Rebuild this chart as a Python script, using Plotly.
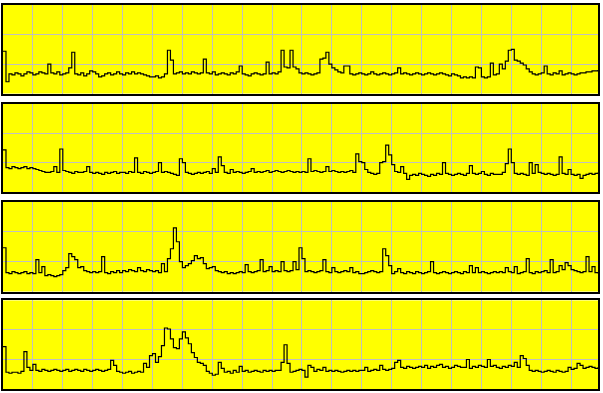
import plotly.graph_objects as go

# values (units: plot-height pixels, range 0..90)
series_a = [43,12,20,19,21,20,18,20,22,21,
            19,20,22,21,20,30,21,20,22,19,
            20,21,26,42,20,19,21,18,20,23,
            22,20,17,18,20,21,19,20,22,20,
            19,21,20,22,20,21,20,19,18,17,
            17,18,16,17,20,44,34,20,21,22,
            20,21,20,22,21,20,21,35,21,20,
            22,19,20,21,20,19,21,20,22,28,
            20,19,18,20,21,20,19,20,32,20,
            21,20,22,44,27,26,44,27,25,21,
            20,21,20,19,20,21,35,36,42,30,
            26,24,22,21,28,28,20,19,20,21,
            20,19,20,22,20,19,20,21,20,19,
            20,21,26,20,21,20,19,20,21,20,
            19,20,21,20,19,20,21,20,19,18,
            20,19,18,16,17,16,17,16,27,26,
            17,16,17,31,19,20,30,25,33,44,
            45,34,33,31,29,25,22,20,19,20,
            21,28,20,19,21,20,23,19,20,21,
            20,19,20,21,21,22,22,23,23,24]

series_b = [43,25,24,26,25,24,25,26,24,25,
            24,23,22,21,20,20,21,26,20,44,
            22,21,20,19,21,20,20,21,26,20,
            19,20,19,18,20,19,20,21,19,20,
            20,19,21,20,35,20,19,21,20,19,
            20,21,30,20,21,20,19,18,17,34,
            30,20,19,18,19,20,19,20,21,19,
            24,20,36,27,20,19,23,20,21,20,
            19,20,21,24,20,21,20,21,22,20,
            21,22,21,20,21,22,21,20,21,20,
            21,20,34,21,22,21,20,21,26,21,
            22,21,20,21,20,21,22,20,39,31,
            30,23,20,19,18,19,30,31,48,38,
            28,21,20,26,19,13,17,18,17,19,
            18,17,16,18,17,19,18,30,19,18,
            17,18,19,18,17,19,27,19,18,19,
            21,18,17,19,18,18,18,20,29,44,
            30,19,18,19,18,17,30,19,28,20,
            19,18,19,18,17,18,36,19,18,23,
            18,17,18,14,17,18,19,18,19,20]

series_c = [44,19,18,20,19,18,19,20,18,19,
            18,32,19,25,16,17,16,15,16,17,
            21,24,38,35,32,24,25,21,20,19,
            20,19,20,35,19,18,20,19,21,19,
            21,20,22,21,20,24,21,20,22,21,
            20,21,19,28,20,33,43,64,50,30,
            24,26,28,31,36,33,34,28,23,24,
            25,21,20,19,20,18,19,18,19,20,
            19,27,20,19,20,21,32,20,21,25,
            20,21,20,30,21,20,21,30,22,44,
            33,20,21,20,19,20,21,32,20,19,
            24,20,19,20,21,20,24,19,20,18,
            18,19,20,21,20,19,20,43,36,26,
            18,20,23,19,18,20,19,18,20,19,
            18,19,20,30,19,18,19,20,19,18,
            19,20,19,18,20,19,26,19,24,19,
            20,19,18,19,20,19,20,19,24,20,
            19,25,18,19,20,33,19,18,20,19,
            20,21,19,32,19,20,26,22,29,26,
            22,21,20,19,20,35,20,25,19,18]

series_d = [43,17,16,17,17,16,18,38,22,19,
            25,19,18,20,19,18,19,20,19,18,
            19,20,18,19,20,19,18,20,19,18,
            19,20,19,18,19,20,29,24,18,17,
            16,17,18,16,17,18,17,26,22,34,
            36,27,33,44,62,61,51,42,41,51,
            58,52,46,37,32,27,26,24,18,16,
            14,15,27,21,17,18,16,19,17,23,
            18,19,17,18,19,18,17,19,18,19,
            18,19,19,27,45,26,17,18,19,20,
            19,12,24,22,18,20,19,22,18,19,
            18,19,18,17,18,19,18,19,18,19,
            19,22,18,19,20,19,24,20,19,20,
            21,27,29,22,21,23,22,21,22,23,
            22,24,21,23,22,24,25,22,23,21,
            22,24,23,22,22,30,21,23,22,24,
            23,22,30,23,24,22,21,23,22,24,
            23,27,22,34,31,24,19,18,19,18,
            17,18,19,18,17,19,18,17,18,22,
            20,21,26,24,21,22,23,22,21,22]

all_series = [series_a, series_b, series_c, series_d]
domains = [[0.7694, 1.0], [0.5130, 0.7422], [0.2539, 0.4870], [0.0, 0.2306]]

fig = go.Figure()
layout = dict(width=603, height=393, margin=dict(l=3, r=3, t=3, b=4),
              paper_bgcolor="white", plot_bgcolor="#ffff00", showlegend=False)

for k, (vals, dom) in enumerate(zip(all_series, domains)):
    n = k + 1
    xs = list(range(len(vals)))
    fig.add_trace(go.Scatter(x=xs, y=vals, mode="lines",
                             line=dict(color="black", width=1.2, shape="hv"),
                             xaxis=f"x{n}" if n > 1 else "x",
                             yaxis=f"y{n}" if n > 1 else "y",
                             hoverinfo="skip"))
    ax = dict(domain=[0, 1], range=[0, len(vals) - 1], dtick=10, tick0=0,
              showgrid=True, gridcolor="#c0c0c0", gridwidth=1,
              showticklabels=False, ticks="", zeroline=False,
              showline=True, linecolor="black", linewidth=1.5, mirror=True,
              anchor=f"y{n}" if n > 1 else "y")
    ay = dict(domain=dom, range=[0, 90], dtick=30, tick0=0,
              showgrid=True, gridcolor="#c0c0c0", gridwidth=1,
              showticklabels=False, ticks="", zeroline=False,
              showline=True, linecolor="black", linewidth=1.5, mirror=True,
              anchor=f"x{n}" if n > 1 else "x")
    layout[f"xaxis{n}" if n > 1 else "xaxis"] = ax
    layout[f"yaxis{n}" if n > 1 else "yaxis"] = ay

fig.update_layout(**layout)
fig.write_html("out.html")
